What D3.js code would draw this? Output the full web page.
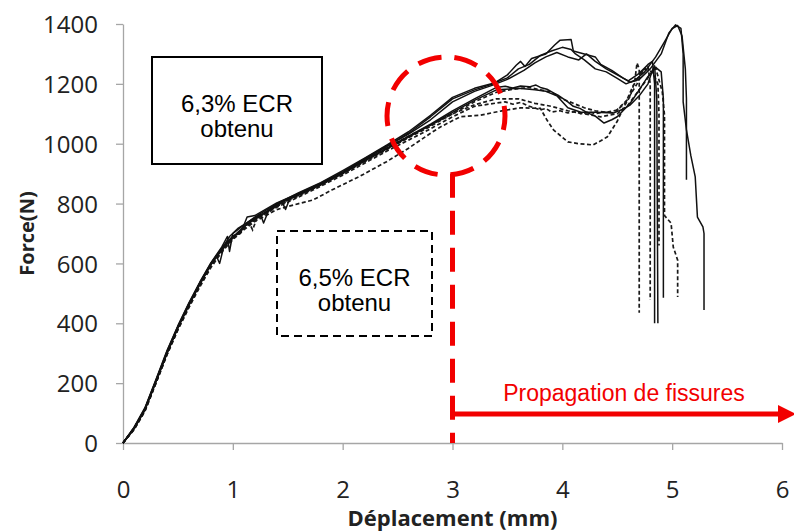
<!DOCTYPE html>
<html>
<head>
<meta charset="utf-8">
<script src="https://cdn.jsdelivr.net/npm/d3@7"></script>
<style>
  body { margin: 0; background: #fff; }
  svg { display: block; }
</style>
</head>
<body>
<script>
// axis ticks
var xTicks = [0, 1, 2, 3, 4, 5, 6];
var yTicks = [0, 200, 400, 600, 800, 1000, 1200, 1400];

// 6,3% ECR specimens (solid) : [displacement mm, force N]
var s1 = [[0,0],[0.1,48],[0.2,112],[0.3,205],[0.4,300],[0.5,388],[0.6,462],[0.7,532],[0.8,598],[0.9,648],[0.97,690],[1.05,718],[1.2,752],[1.25,765],[1.28,735],[1.33,780],[1.4,798],[1.6,832],[1.8,866],[2.0,905],[2.2,948],[2.4,990],[2.6,1035],[2.8,1090],[3.0,1150],[3.2,1180],[3.37,1200],[3.5,1230],[3.58,1262],[3.62,1275],[3.66,1258],[3.72,1285],[3.85,1300],[3.93,1330],[3.98,1346],[4.08,1348],[4.1,1310],[4.2,1300],[4.3,1290],[4.35,1265],[4.45,1245],[4.55,1220],[4.62,1205],[4.7,1215],[4.8,1250],[4.9,1300],[4.97,1370],[5.03,1397],[5.08,1385],[5.1,1300],[5.1,1140],[5.13,1046],[5.17,960],[5.21,889],[5.23,755],[5.28,722],[5.29,700],[5.29,444]];
var s2 = [[0,0],[0.1,52],[0.2,118],[0.3,212],[0.4,308],[0.5,392],[0.6,468],[0.7,538],[0.8,602],[0.9,655],[0.95,690],[0.97,640],[1.0,700],[1.1,728],[1.2,755],[1.4,800],[1.6,836],[1.8,870],[2.0,910],[2.2,952],[2.4,995],[2.6,1040],[2.8,1095],[3.0,1155],[3.2,1185],[3.38,1203],[3.5,1220],[3.6,1250],[3.7,1265],[3.8,1295],[3.9,1310],[4.0,1322],[4.08,1315],[4.12,1300],[4.2,1280],[4.3,1250],[4.4,1240],[4.5,1218],[4.58,1200],[4.66,1212],[4.75,1240],[4.85,1290],[4.93,1340],[5.0,1385],[5.05,1395],[5.09,1360],[5.12,1250],[5.13,1150],[5.13,880]];
var s3 = [[0,0],[0.1,50],[0.2,114],[0.3,208],[0.4,302],[0.5,387],[0.6,464],[0.7,536],[0.8,600],[0.9,652],[1.0,692],[1.07,700],[1.13,755],[1.2,760],[1.4,802],[1.6,834],[1.8,868],[2.0,906],[2.2,950],[2.4,992],[2.6,1032],[2.8,1080],[3.0,1140],[3.2,1175],[3.36,1195],[3.5,1215],[3.65,1245],[3.75,1270],[3.85,1290],[3.95,1305],[4.05,1290],[4.15,1280],[4.22,1300],[4.3,1275],[4.4,1250],[4.5,1230],[4.6,1210],[4.7,1235],[4.78,1265],[4.82,1275],[4.84,1200],[4.84,400]];
var s4 = [[0,0],[0.1,46],[0.2,110],[0.3,204],[0.4,298],[0.5,384],[0.6,460],[0.7,530],[0.8,595],[0.9,645],[1.0,686],[1.1,722],[1.2,750],[1.4,795],[1.6,830],[1.8,864],[2.0,902],[2.2,944],[2.4,985],[2.6,1025],[2.8,1065],[3.0,1110],[3.2,1150],[3.4,1188],[3.48,1192],[3.55,1186],[3.62,1193],[3.7,1190],[3.76,1196],[3.8,1188],[3.86,1182],[3.92,1170],[3.96,1162],[4.0,1152],[4.05,1140],[4.1,1125],[4.16,1118],[4.23,1103],[4.3,1092],[4.38,1069],[4.45,1080],[4.5,1090],[4.62,1136],[4.7,1180],[4.78,1225],[4.85,1255],[4.9,1240],[4.92,1150],[4.92,485]];
var s5 = [[0,0],[0.1,50],[0.2,116],[0.3,210],[0.4,306],[0.5,390],[0.6,466],[0.7,534],[0.8,598],[0.85,625],[0.88,600],[0.92,660],[1.0,688],[1.1,722],[1.2,748],[1.4,792],[1.45,805],[1.48,780],[1.52,818],[1.6,828],[1.8,862],[2.0,900],[2.2,942],[2.4,982],[2.6,1022],[2.8,1062],[3.0,1105],[3.2,1145],[3.4,1180],[3.6,1185],[3.75,1180],[3.85,1175],[3.95,1160],[4.05,1120],[4.17,1105],[4.3,1105],[4.47,1103],[4.55,1115],[4.62,1130],[4.7,1160],[4.78,1200],[4.82,1245],[4.84,1260],[4.86,1150],[4.87,400]];

// 6,5% ECR specimens (dashed)
var d1 = [[0,0],[0.1,44],[0.2,106],[0.3,200],[0.4,295],[0.5,380],[0.6,455],[0.7,526],[0.8,590],[0.9,642],[1.0,684],[1.1,720],[1.15,735],[1.18,712],[1.22,752],[1.4,790],[1.6,826],[1.8,862],[2.0,900],[2.2,940],[2.4,980],[2.6,1020],[2.8,1058],[3.0,1100],[3.2,1140],[3.4,1172],[3.55,1182],[3.7,1188],[3.8,1180],[3.9,1172],[4.0,1150],[4.1,1135],[4.2,1120],[4.3,1110],[4.4,1105],[4.5,1112],[4.58,1140],[4.64,1190],[4.72,1240],[4.78,1260],[4.8,1200],[4.8,478]];
var d2 = [[0,0],[0.1,48],[0.2,110],[0.3,203],[0.4,298],[0.5,382],[0.6,458],[0.7,528],[0.8,592],[0.9,644],[1.0,684],[1.1,716],[1.2,744],[1.4,788],[1.6,822],[1.8,858],[2.0,895],[2.2,935],[2.4,975],[2.6,1012],[2.8,1050],[3.0,1090],[3.2,1125],[3.4,1136],[3.48,1140],[3.55,1132],[3.62,1138],[3.7,1125],[3.8,1113],[3.85,1118],[3.9,1106],[3.98,1110],[4.05,1103],[4.12,1108],[4.17,1100],[4.25,1106],[4.3,1100],[4.38,1106],[4.47,1103],[4.59,1146],[4.68,1200],[4.74,1250],[4.82,1240],[4.87,1200],[4.88,1100],[4.88,660]];
var d3c = [[0,0],[0.1,45],[0.2,108],[0.3,200],[0.4,294],[0.5,378],[0.6,452],[0.7,522],[0.8,586],[0.9,638],[1.0,680],[1.1,712],[1.2,740],[1.4,780],[1.6,800],[1.73,812],[1.9,845],[2.16,892],[2.4,940],[2.6,985],[2.8,1035],[2.89,1056],[3.07,1090],[3.25,1095],[3.45,1110],[3.62,1120],[3.8,1118],[3.86,1079],[3.92,1046],[4.05,1006],[4.15,1000],[4.28,996],[4.35,1010],[4.41,1023],[4.5,1075],[4.56,1123],[4.62,1160],[4.66,1210],[4.68,1270],[4.7,1250],[4.7,435]];
var d4 = [[0,0],[0.1,50],[0.2,112],[0.3,206],[0.4,300],[0.5,385],[0.6,460],[0.7,530],[0.8,596],[0.9,646],[1.0,688],[1.1,720],[1.2,746],[1.4,794],[1.6,830],[1.8,866],[2.0,905],[2.2,946],[2.4,986],[2.6,1025],[2.8,1062],[3.0,1100],[3.2,1130],[3.4,1150],[3.6,1150],[3.75,1135],[3.9,1125],[4.05,1110],[4.2,1100],[4.35,1090],[4.5,1100],[4.6,1130],[4.7,1180],[4.8,1230],[4.85,1253],[4.91,1173],[4.93,1096],[4.93,760],[4.99,735],[5.01,655],[5.05,611],[5.05,488]];

var solidCurves = [s1, s2, s3, s4, s5];
var dashedCurves = [d1, d2, d3c, d4];

// sizes
var width = 794, height = 531;
var margin = {left: 123, right: 12, top: 24, bottom: 88};

var svg = d3.select("body")
    .append("svg")
    .attr("width", width)
    .attr("height", height);

var x = d3.scaleLinear().domain([0, 6]).range([margin.left, 782]);
var y = d3.scaleLinear().domain([0, 1400]).range([height - margin.bottom, margin.top]);

// x axis
var gx = svg.append("g")
    .attr("transform", "translate(0," + y(0) + ")")
    .call(d3.axisBottom(x).tickValues(xTicks).tickFormat(d3.format("d"))
        .tickSize(7).tickSizeOuter(0).tickPadding(31));
// y axis
var gy = svg.append("g")
    .attr("transform", "translate(" + x(0) + ",0)")
    .call(d3.axisLeft(y).tickValues(yTicks).tickFormat(d3.format("d"))
        .tickSize(7).tickSizeOuter(0).tickPadding(18));

[gx, gy].forEach(function(g) {
    g.select(".domain").attr("stroke", "#a6a6a6").attr("stroke-width", 1.3);
    g.selectAll(".tick line").attr("stroke", "#a6a6a6").attr("stroke-width", 1.3);
    g.selectAll(".tick text")
        .attr("fill", "#222")
        .style("font-family", "'Open Sans', sans-serif")
        .style("font-size", "24px");
});
gy.selectAll(".tick text").attr("dy", "0.36em");

// axis titles
svg.append("text")
    .attr("x", x(3))
    .attr("y", 526)
    .attr("text-anchor", "middle")
    .style("font-family", "'Open Sans', sans-serif")
    .style("font-weight", "bold")
    .style("font-size", "22px")
    .attr("fill", "#222")
    .text("Déplacement (mm)");

svg.append("text")
    .attr("transform", "translate(34," + y(700) + ") rotate(-90)")
    .attr("text-anchor", "middle")
    .style("font-family", "'Open Sans', sans-serif")
    .style("font-weight", "bold")
    .style("font-size", "20px")
    .attr("fill", "#222")
    .text("Force(N)");

// curves
var line = d3.line()
    .x(function(d) { return x(d[0]); })
    .y(function(d) { return y(d[1]); });

svg.selectAll(".dashed")
    .data(dashedCurves)
    .enter().append("path")
    .attr("class", "dashed")
    .attr("d", line)
    .attr("fill", "none")
    .attr("stroke", "#1a1a1a")
    .attr("stroke-width", 1.7)
    .attr("stroke-dasharray", "4,2.5");

svg.selectAll(".solid")
    .data(solidCurves)
    .enter().append("path")
    .attr("class", "solid")
    .attr("d", line)
    .attr("fill", "none")
    .attr("stroke", "#111")
    .attr("stroke-width", 1.5)
    .attr("stroke-linejoin", "round");

// legend boxes
function labelBox(x0, y0, w, h, dash, lines) {
    svg.append("rect")
        .attr("x", x0).attr("y", y0)
        .attr("width", w).attr("height", h)
        .attr("fill", "#fff")
        .attr("stroke", "#000")
        .attr("stroke-width", 2)
        .attr("stroke-dasharray", dash);
    lines.forEach(function(t, i) {
        svg.append("text")
            .attr("x", x0 + w / 2)
            .attr("y", y0 + 55 + i * 25)
            .attr("text-anchor", "middle")
            .style("font-family", "'Liberation Sans', Arial, sans-serif")
            .style("font-size", "24px")
            .attr("fill", "#000")
            .text(t);
    });
}
labelBox(152, 57, 170, 107, null, ["6,3% ECR", "obtenu"]);
labelBox(277, 231, 155, 105, "8,5", ["6,5% ECR", "obtenu"]);

// red annotations
var red = "#f20000";
svg.append("circle")
    .attr("cx", 446).attr("cy", 116).attr("r", 59)
    .attr("fill", "none")
    .attr("stroke", red)
    .attr("stroke-width", 5)
    .attr("stroke-dasharray", "24,13")
    .attr("stroke-dashoffset", 10);

svg.append("line")
    .attr("x1", x(3)).attr("x2", x(3))
    .attr("y1", y(900)).attr("y2", y(0))
    .attr("stroke", red)
    .attr("stroke-width", 5)
    .attr("stroke-dasharray", "24,13");

var arrowY = y(97);
svg.append("line")
    .attr("x1", x(3)).attr("x2", 782)
    .attr("y1", arrowY).attr("y2", arrowY)
    .attr("stroke", red)
    .attr("stroke-width", 5);
svg.append("path")
    .attr("d", "M778," + (arrowY - 9) + "L796," + arrowY + "L778," + (arrowY + 9) + "Z")
    .attr("fill", red);

svg.append("text")
    .attr("x", 624)
    .attr("y", 401)
    .attr("text-anchor", "middle")
    .style("font-family", "'Liberation Sans', Arial, sans-serif")
    .style("font-size", "23px")
    .attr("fill", red)
    .text("Propagation de fissures");
</script>
</body>
</html>
